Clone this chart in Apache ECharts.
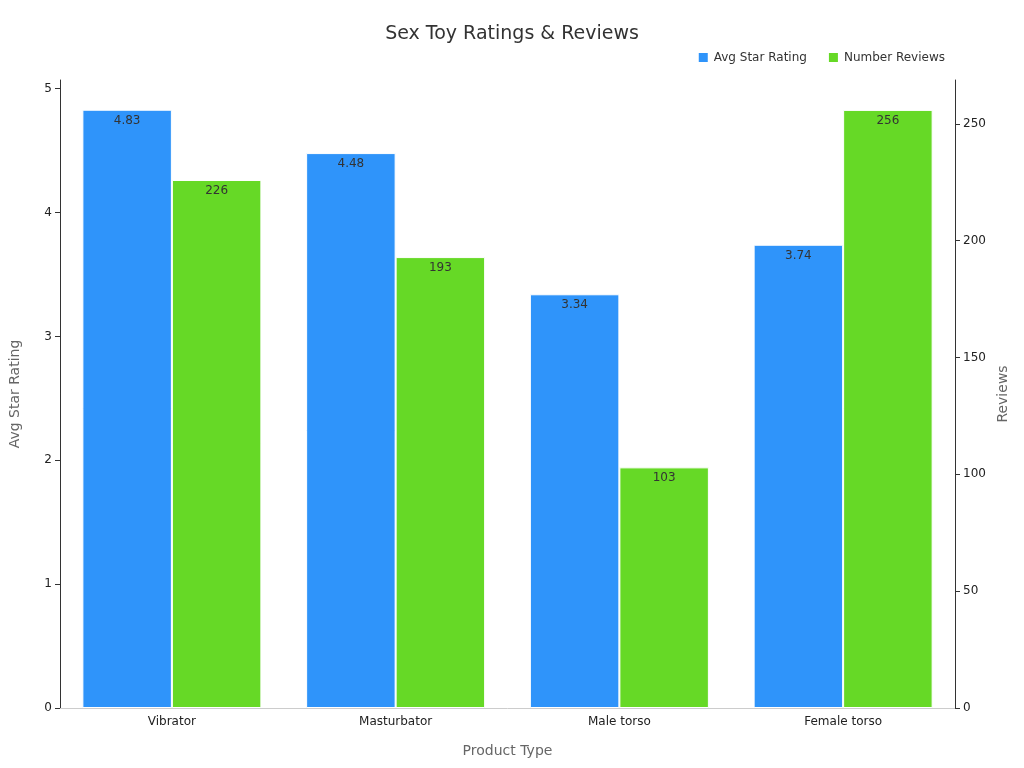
<!DOCTYPE html>
<html>
<head>
<meta charset="utf-8">
<script src="https://cdn.jsdelivr.net/npm/echarts@6/dist/echarts.min.js"></script>
<style>html,body{margin:0;padding:0;background:#fff}#chart{width:1024px;height:768px}</style>
</head>
<body>
<div id="chart"></div>
<script>
var categories = ['Vibrator', 'Masturbator', 'Male torso', 'Female torso'];
var avgRating = [4.83, 4.48, 3.34, 3.74];
var numReviews = [226, 193, 103, 256];

var chart = echarts.init(document.getElementById('chart'));
var font = 'DejaVu Sans';
chart.setOption({
    textStyle: {fontFamily: font},
    title: {
        text: 'Sex Toy Ratings & Reviews',
        left: 'center', top: 20,
        textStyle: {fontSize: 19, fontWeight: 'normal', color: '#333', fontFamily: font}
    },
    legend: {
        right: 74, top: 46,
        icon: 'rect', itemWidth: 11, itemHeight: 11, itemGap: 20,
        textStyle: {fontSize: 12, color: '#333', fontFamily: font},
        data: ['Avg Star Rating', 'Number Reviews']
    },
    grid: {left: 60, right: 69, top: 80, bottom: 60},
    xAxis: {
        type: 'category',
        data: categories,
        name: 'Product Type', nameLocation: 'middle', nameGap: 36,
        nameTextStyle: {fontSize: 14, color: '#666'},
        axisTick: {show: false},
        axisLine: {lineStyle: {color: '#ccc'}},
        axisLabel: {color: '#222', fontSize: 12}
    },
    yAxis: [{
        type: 'value', min: 0, max: 5.07, interval: 1,
        name: 'Avg Star Rating', nameLocation: 'middle', nameGap: 38,
        nameTextStyle: {fontSize: 14, color: '#666'},
        axisLine: {show: true, lineStyle: {color: '#333'}},
        axisTick: {show: true},
        axisLabel: {color: '#222', fontSize: 12, showMaxLabel: false},
        splitLine: {show: false}
    }, {
        type: 'value', min: 0, max: 268.8, interval: 50,
        name: 'Reviews', nameLocation: 'middle', nameGap: 40,
        nameTextStyle: {fontSize: 14, color: '#666'},
        axisLine: {show: true, lineStyle: {color: '#333'}},
        axisTick: {show: true},
        axisLabel: {color: '#222', fontSize: 12, showMaxLabel: false},
        splitLine: {show: false}
    }],
    series: [{
        name: 'Avg Star Rating', type: 'bar', yAxisIndex: 0,
        data: avgRating, barGap: '0%', barCategoryGap: '20%',
        itemStyle: {color: '#2f94fa', borderColor: '#fff', borderWidth: 1},
        label: {show: true, position: 'insideTop', color: '#333', fontSize: 12}
    }, {
        name: 'Number Reviews', type: 'bar', yAxisIndex: 1,
        data: numReviews,
        itemStyle: {color: '#66d926', borderColor: '#fff', borderWidth: 1},
        label: {show: true, position: 'insideTop', color: '#333', fontSize: 12}
    }]
});
</script>
</body>
</html>
